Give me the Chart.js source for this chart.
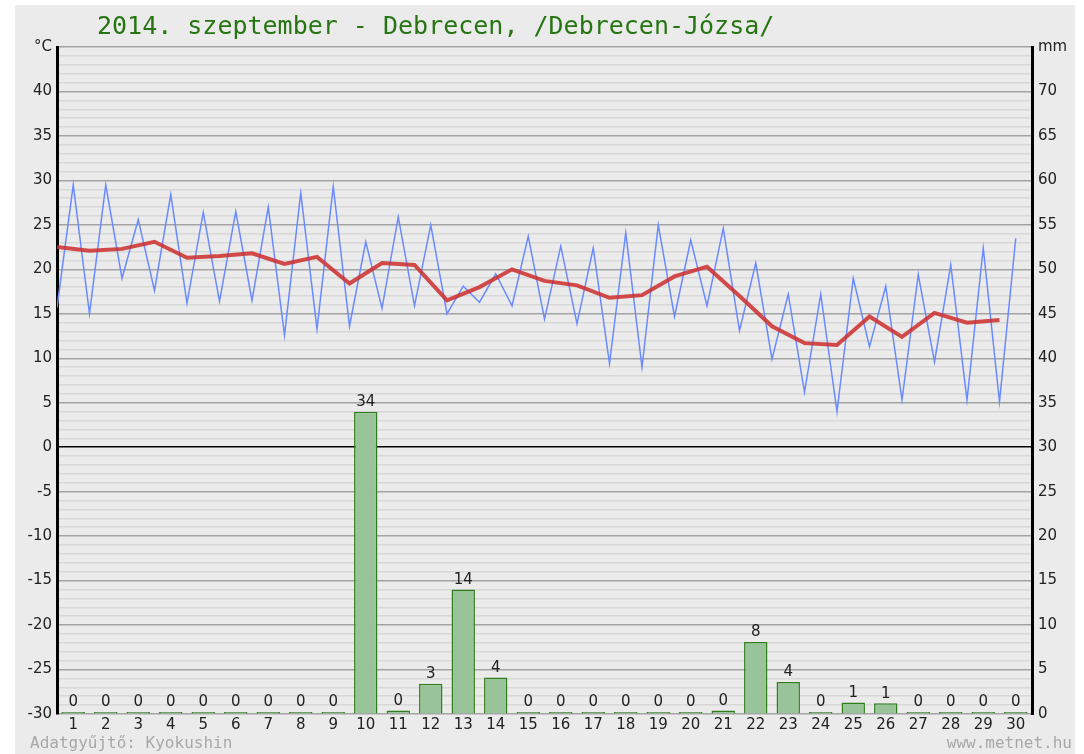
<!DOCTYPE html>
<html>
<head>
<meta charset="utf-8">
<title>2014. szeptember - Debrecen</title>
<script src="https://cdn.jsdelivr.net/npm/chart.js@4/dist/chart.umd.min.js"></script>
<style>
  html, body { margin: 0; padding: 0; background: #fff; }
  #grafikon { display: block; }
</style>
</head>
<body>
<canvas id="grafikon" width="1084" height="754"></canvas>
<script>
// napok
const napok = [1,2,3,4,5,6,7,8,9,10,11,12,13,14,15,16,17,18,19,20,21,22,23,24,25,26,27,28,29,30];

// csapadék (mm)
const csapadek = [0,0,0,0,0,0,0,0,0,34.0,0.4,3.4,14.0,4.1,0,0,0,0,0,0,0.4,8.1,3.6,0,1.3,1.2,0,0,0,0];

// napi maximum (°C) - a nap közepén
const napiMax = [29.5,29.5,25.6,28.4,26.4,26.5,27.0,28.6,29.3,23.1,25.9,25.0,18.1,19.5,23.7,
                 22.6,22.4,24.1,25.0,23.3,24.6,20.7,17.2,17.2,19.0,18.1,19.4,20.5,22.4,23.5];

// napi minimum (°C) - a napok határán (0.5, 1.5, ...)
const napiMin = [15.7,15.0,19.0,17.6,16.2,16.4,16.5,12.6,13.3,13.6,15.6,15.9,15.0,16.3,15.9,
                 14.4,13.9,9.4,9.0,14.7,15.9,13.1,9.9,6.2,4.0,11.3,5.3,9.6,5.3,5.1];

// napi átlag (°C)
const napiAtlag = [22.5,22.1,22.3,23.1,21.3,21.5,21.8,20.6,21.4,18.4,20.7,20.5,16.5,18.0,20.0,
                   18.7,18.2,16.8,17.1,19.2,20.3,17.0,13.6,11.7,11.5,14.7,12.4,15.1,14.0,14.3];

const cim = '2014. szeptember - Debrecen, /Debrecen-Józsa/';
const adatgyujto = 'Adatgyűjtő: Kyokushin';
const forras = 'www.metnet.hu';

// hőmérséklet pontok: min a határon, max a nap közepén
const homersekletPontok = [];
napiMin.forEach((v, i) => {
    homersekletPontok.push({x: napok[i] - 0.5, y: v});
    homersekletPontok.push({x: napok[i], y: napiMax[i]});
});
const atlagPontok = napiAtlag.map((v, i) => ({x: napok[i] - 0.5, y: v}));
const csapadekPontok = csapadek.map((v, i) => ({x: napok[i], y: v}));

// háttér + feliratok
const hatterPlugin = {
    id: 'hatter',
    beforeDraw(chart) {
        const c = chart.ctx;
        c.save();
        c.fillStyle = '#ffffff';
        c.fillRect(0, 0, chart.width, chart.height);
        c.fillStyle = '#ebebeb';
        c.fillRect(15, 5, 1060, chart.height - 5);
        c.restore();
    },
    afterDraw(chart) {
        const c = chart.ctx;
        c.save();
        c.font = '25px "DejaVu Sans Mono"';
        c.fillStyle = '#277512';
        c.textBaseline = 'middle';
        c.textAlign = 'left';
        c.fillText(cim, 97, 27);

        c.font = '16px "DejaVu Sans Mono"';
        c.fillStyle = '#a8a8a8';
        c.fillText(adatgyujto, 30, 744);
        c.textAlign = 'right';
        c.fillText(forras, 1072, 744);
        c.restore();
    }
};

// csapadék értékek az oszlopok fölött
const ertekPlugin = {
    id: 'ertekek',
    afterDatasetsDraw(chart) {
        const meta = chart.getDatasetMeta(0);
        const c = chart.ctx;
        c.save();
        c.font = '15px "DejaVu Sans"';
        c.fillStyle = '#222';
        c.textAlign = 'center';
        c.textBaseline = 'bottom';
        meta.data.forEach((bar, i) => {
            c.fillText(Math.round(csapadek[i]), bar.x, bar.y - 2);
        });
        c.restore();
    }
};

const ctx = document.getElementById('grafikon').getContext('2d');

new Chart(ctx, {
    data: {
        datasets: [
            {
                type: 'bar',
                label: 'Csapadék',
                data: csapadekPontok,
                yAxisID: 'y2',
                backgroundColor: '#99c49a',
                borderColor: '#2f7d1c',
                borderWidth: 1.5,
                borderSkipped: 'start',
                minBarLength: 2,
                categoryPercentage: 0.8,
                barPercentage: 0.9,
                order: 3
            },
            {
                type: 'line',
                label: 'Hőmérséklet',
                data: homersekletPontok,
                yAxisID: 'y',
                borderColor: '#6a8bff',
                borderWidth: 1.5,
                pointRadius: 0,
                tension: 0,
                order: 2
            },
            {
                type: 'line',
                label: 'Átlag',
                data: atlagPontok,
                yAxisID: 'y',
                borderColor: 'rgba(205, 45, 45, 0.85)',
                borderWidth: 4,
                pointRadius: 0,
                tension: 0,
                order: 1
            }
        ]
    },
    options: {
        responsive: false,
        animation: false,
        layout: { padding: { top: 47, left: 0, right: 0, bottom: 0 } },
        plugins: {
            legend: { display: false },
            tooltip: { enabled: false }
        },
        scales: {
            x: {
                type: 'linear',
                min: 0.5,
                max: 30.5,
                offset: false,
                ticks: {
                    autoSkip: false,
                    maxRotation: 0,
                    padding: 2,
                    color: '#222',
                    font: { family: 'DejaVu Sans', size: 15 }
                },
                // egy felirat minden napra
                afterBuildTicks(scale) {
                    scale.ticks = napok.map(d => ({value: d}));
                },
                afterFit(scale) { scale.height = 40; },
                grid: { display: false, drawTicks: false, offset: false },
                border: { display: false }
            },
            y: {
                position: 'left',
                min: -30,
                max: 45,
                ticks: {
                    stepSize: 1,
                    autoSkip: false,
                    padding: 5,
                    color: '#222',
                    font: { family: 'DejaVu Sans', size: 15 },
                    callback: v => v === 45 ? '°C' : (v % 5 === 0 ? v : '')
                },
                afterFit(scale) { scale.width = 57; },
                grid: {
                    drawTicks: false,
                    color: c => c.tick.value === 0 ? '#000' : (c.tick.value % 5 === 0 ? '#a3a3a3' : '#d8d8d8'),
                    lineWidth: 1.5
                },
                border: { display: true, color: '#000', width: 3 }
            },
            y2: {
                position: 'right',
                min: 0,
                max: 75,
                ticks: {
                    stepSize: 5,
                    autoSkip: false,
                    padding: 6,
                    color: '#222',
                    font: { family: 'DejaVu Sans', size: 15 },
                    callback: v => v === 75 ? 'mm' : v
                },
                afterFit(scale) { scale.width = 52; },
                grid: { drawOnChartArea: false, drawTicks: false },
                border: { display: true, color: '#000', width: 3 }
            }
        }
    },
    plugins: [hatterPlugin, ertekPlugin]
});
</script>
</body>
</html>
